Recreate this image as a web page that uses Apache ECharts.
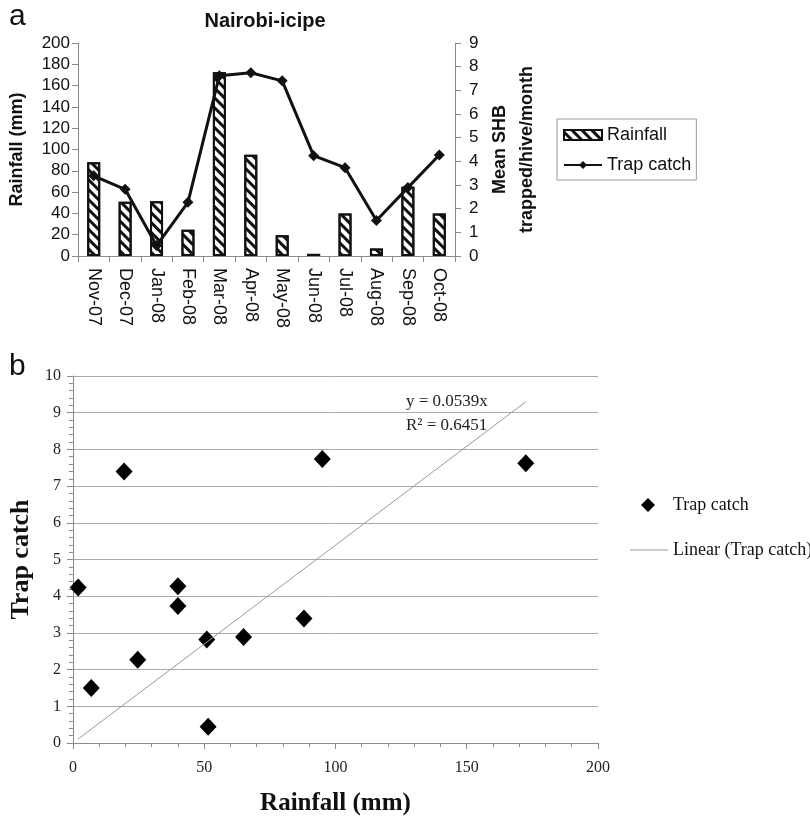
<!DOCTYPE html>
<html>
<head>
<meta charset="utf-8">
<script src="https://cdn.jsdelivr.net/npm/echarts@6/dist/echarts.min.js"></script>
<style>
  html, body { margin: 0; padding: 0; background: #fff; }
  #main { width: 810px; height: 817px; }
</style>
</head>
<body>
<div id="main"></div>
<script>
  // panel a: monthly rainfall and trap catch
  var months = ['Nov-07', 'Dec-07', 'Jan-08', 'Feb-08', 'Mar-08', 'Apr-08', 'May-08', 'Jun-08', 'Jul-08', 'Aug-08', 'Sep-08', 'Oct-08'];
  var rainfall = [88, 51, 51.5, 24.7, 172.5, 95, 19.5, 2, 40, 7, 65, 40];
  var trapCatch = [3.39, 2.82, 0.44, 2.27, 7.62, 7.74, 7.4, 4.24, 3.73, 1.5, 2.89, 4.27];

  // panel b: trend line y = 0.0539x
  var trendSlope = 0.0539;
  var trendLabel = ['y = 0.0539x', 'R\u00b2 = 0.6451'];

  var sans = 'Liberation Sans';
  var serif = 'Liberation Serif';
  var axisGrey = '#8a8a8a';

  var scatterData = rainfall.map(function (r, i) { return [r, trapCatch[i]]; });
  var xMin = Math.min.apply(null, rainfall);
  var xMax = Math.max.apply(null, rainfall);
  var trendData = [[xMin, trendSlope * xMin], [xMax, trendSlope * xMax]];

  var chart = echarts.init(document.getElementById('main'));

  var option = {
    animation: false,
    textStyle: { fontFamily: sans, color: '#111' },
    title: {
      text: 'Nairobi-icipe',
      left: 260, top: 6, textAlign: 'center',
      textStyle: { fontFamily: sans, fontSize: 20, fontWeight: 'bold', color: '#111' }
    },
    graphic: [
      { type: 'text', left: 9, top: 2, style: { text: 'a', font: '30px "Liberation Sans"', fill: '#111' } },
      { type: 'text', left: 9, top: 352, style: { text: 'b', font: '30px "Liberation Sans"', fill: '#111' } },
      { type: 'text', left: 406, top: 393, style: { text: trendLabel[0], font: '17px "Liberation Serif"', fill: '#222' } },
      { type: 'text', left: 406, top: 417, style: { text: trendLabel[1], font: '17px "Liberation Serif"', fill: '#222' } }
    ],
    legend: [
      {
        left: 557, top: 119, orient: 'vertical',
        borderColor: '#999', borderWidth: 1, padding: [7, 5, 6, 6],
        itemWidth: 38, itemHeight: 10, itemGap: 12,
        textStyle: { fontFamily: sans, fontSize: 18, color: '#111' },
        data: [{ name: 'Rainfall', icon: 'rect' }, 'Trap catch']
      },
      {
        left: 636, top: 491, orient: 'vertical',
        itemWidth: 14, itemHeight: 14, itemGap: 10,
        textStyle: { fontFamily: serif, fontSize: 18, color: '#111', padding: [0, 0, 0, 13] },
        data: [{ name: 'Trap catch ', icon: 'diamond' }]
      },
      {
        left: 625, top: 536, orient: 'vertical',
        itemWidth: 38, itemHeight: 1, itemGap: 10,
        textStyle: { fontFamily: serif, fontSize: 18, color: '#111' },
        data: [{ name: 'Linear (Trap catch)', icon: 'rect' }]
      }
    ],
    grid: [
      { left: 78, width: 377, top: 43, height: 213 },
      { left: 71, width: 527, top: 376, height: 367 }
    ],
    xAxis: [
      {
        type: 'category', gridIndex: 0, data: months, boundaryGap: true,
        axisLine: { lineStyle: { color: axisGrey } },
        axisTick: { show: true, length: 6, lineStyle: { color: axisGrey } },
        axisLabel: { rotate: -90, margin: 12, fontFamily: sans, fontSize: 18, color: '#111' }
      },
      {
        type: 'value', gridIndex: 1, min: 0, max: 200, interval: 50,
        axisLine: { lineStyle: { color: axisGrey } },
        axisTick: { length: 6, lineStyle: { color: axisGrey } },
        minorTick: { show: true, splitNumber: 5, length: 4, lineStyle: { color: axisGrey } },
        splitLine: { show: false },
        axisLabel: { margin: 17, fontFamily: serif, fontSize: 16, color: '#222' },
        name: 'Rainfall (mm)', nameLocation: 'middle', nameGap: 48,
        nameTextStyle: { fontFamily: serif, fontSize: 25, fontWeight: 'bold', color: '#111' }
      }
    ],
    yAxis: [
      {
        type: 'value', gridIndex: 0, min: 0, max: 200, interval: 20,
        axisLine: { show: true, lineStyle: { color: axisGrey } },
        axisTick: { show: true, length: 6, lineStyle: { color: axisGrey } },
        splitLine: { show: false },
        axisLabel: { margin: 8, fontFamily: sans, fontSize: 17, color: '#111' },
        name: 'Rainfall (mm)', nameLocation: 'middle', nameGap: 52,
        nameTextStyle: { fontFamily: sans, fontSize: 18, fontWeight: 'bold', color: '#111' }
      },
      {
        type: 'value', gridIndex: 0, position: 'right', min: 0, max: 9, interval: 1,
        axisLine: { show: true, lineStyle: { color: axisGrey } },
        axisTick: { show: true, length: 6, lineStyle: { color: axisGrey } },
        splitLine: { show: false },
        axisLabel: { margin: 14, fontFamily: sans, fontSize: 17, color: '#111' },
        name: 'Mean SHB\ntrapped/hive/month', nameLocation: 'middle', nameGap: 32, nameRotate: 90,
        nameTextStyle: { fontFamily: sans, fontSize: 18, fontWeight: 'bold', color: '#111', lineHeight: 27, verticalAlign: 'top' }
      },
      {
        type: 'value', gridIndex: 1, min: 0, max: 10, interval: 1,
        axisLine: { show: true, lineStyle: { color: axisGrey } },
        axisTick: { show: true, length: 6, lineStyle: { color: axisGrey } },
        minorTick: { show: true, splitNumber: 5, length: 4, lineStyle: { color: axisGrey } },
        splitLine: { show: true, lineStyle: { color: '#aaa', width: 1 } },
        axisLabel: { margin: 12, fontFamily: serif, fontSize: 16, color: '#222' },
        name: 'Trap catch', nameLocation: 'middle', nameGap: 38,
        nameTextStyle: { fontFamily: serif, fontSize: 26, fontWeight: 'bold', color: '#111' }
      }
    ],
    series: [
      {
        name: 'Rainfall', type: 'bar', xAxisIndex: 0, yAxisIndex: 0,
        barWidth: 13, data: rainfall,
        itemStyle: {
          color: '#fff', borderColor: '#111', borderWidth: 2,
          decal: { symbol: 'rect', symbolSize: 1, dashArrayX: [1, 0], dashArrayY: [3, 3.5], rotation: Math.PI / 4, color: '#111' }
        }
      },
      {
        name: 'Trap catch', type: 'line', xAxisIndex: 0, yAxisIndex: 1,
        data: trapCatch, symbol: 'diamond', symbolSize: 11,
        lineStyle: { color: '#111', width: 3 },
        itemStyle: { color: '#111' }
      },
      {
        name: 'Trap catch ', type: 'scatter', xAxisIndex: 1, yAxisIndex: 2,
        data: scatterData, symbol: 'diamond', symbolSize: [17, 18],
        itemStyle: { color: '#000', opacity: 1 }
      },
      {
        name: 'Linear (Trap catch)', type: 'line', xAxisIndex: 1, yAxisIndex: 2,
        data: trendData, symbol: 'none',
        lineStyle: { color: '#999', width: 1 },
        itemStyle: { color: '#999' }
      }
    ]
  };

  chart.setOption(option);
</script>
</body>
</html>
